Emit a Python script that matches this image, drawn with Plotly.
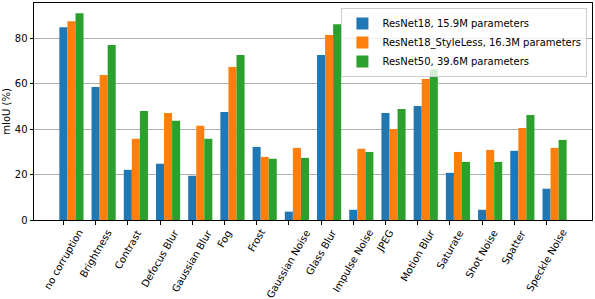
import plotly.graph_objects as go

categories = ["no corruption", "Brightness", "Contrast", "Defocus Blur", "Gaussian Blur",
              "Fog", "Frost", "Gaussian Noise", "Glass Blur", "Impulse Noise", "JPEG",
              "Motion Blur", "Saturate", "Shot Noise", "Spatter", "Speckle Noise"]

resnet18 = [85.0, 58.6, 22.1, 24.8, 19.5, 47.6, 32.2, 3.7, 72.7, 4.5, 47.2, 50.3, 20.8, 4.5, 30.5, 13.8]
resnet18_styleless = [87.6, 63.9, 35.8, 47.2, 41.5, 67.4, 27.8, 31.8, 81.5, 31.4, 40.1, 62.1, 30.0, 30.9, 40.6, 31.8]
resnet50 = [91.1, 77.1, 48.1, 43.7, 35.8, 72.7, 27.0, 27.4, 86.3, 30.0, 48.9, 66.5, 25.6, 25.6, 46.3, 35.3]

series_names = ["ResNet18, 15.9M parameters",
                "ResNet18_StyleLess, 16.3M parameters",
                "ResNet50, 39.6M parameters"]
series_values = [resnet18, resnet18_styleless, resnet50]
colors = ["#1f77b4", "#ff7f0e", "#2ca02c"]
y_ticks = [0, 20, 40, 60, 80]

FONT = "DejaVu Sans"
bar_w = 0.25
positions = list(range(len(categories)))

fig = go.Figure()
for k, (name, vals, col) in enumerate(zip(series_names, series_values, colors)):
    fig.add_bar(x=positions, y=vals, name=name, width=bar_w,
                offset=-bar_w / 2 + k * bar_w,
                marker=dict(color=col, line=dict(width=0)))

ymax = max(max(v) for v in series_values) * 1.05
xmin = -bar_w / 2
xmax = len(categories) - 1 + 2 * bar_w + bar_w / 2
span = xmax - xmin

fig.update_layout(
    width=595, height=299,
    margin=dict(l=34, r=3, t=3, b=79, autoexpand=False),
    paper_bgcolor="white", plot_bgcolor="white",
    barmode="overlay",
    font=dict(family=FONT, size=10, color="black"),
    showlegend=True,
    legend=dict(x=0.9918, y=0.977, xanchor="right", yanchor="top",
                bgcolor="rgba(255,255,255,0.8)", bordercolor="#cccccc", borderwidth=1,
                font=dict(family=FONT, size=10, color="black"),
                tracegroupgap=0, itemwidth=30),
)
fig.update_xaxes(range=[xmin - 0.05 * span, xmax + 0.05 * span],
                 tickvals=positions, ticktext=["" for _ in categories],
                 showticklabels=False, automargin=False,
                 ticks="outside", ticklen=3.5, tickwidth=0.8, tickcolor="black",
                 showline=True, linecolor="black", linewidth=1, mirror=True,
                 showgrid=False, zeroline=False)
fig.update_yaxes(range=[0, ymax], tickvals=y_ticks, ticktext=[str(t) for t in y_ticks],
                 automargin=False,
                 ticks="outside", ticklen=3.5, tickwidth=0.8, tickcolor="black",
                 showline=True, linecolor="black", linewidth=1, mirror=True,
                 showgrid=True, gridcolor="#b0b0b0", gridwidth=0.8, zeroline=False,
                 tickfont=dict(family=FONT, size=10, color="black"),
                 title=dict(text="mIoU (%)", font=dict(family=FONT, size=10, color="black"),
                            standoff=2))

for i, cat in enumerate(categories):
    fig.add_annotation(x=i, y=0, xref="x", yref="paper", text=cat,
                       showarrow=False, textangle=-60,
                       xanchor="center", yanchor="top", yshift=-5,
                       font=dict(family=FONT, size=10, color="black"))

fig.write_html("out.html", config={"displayModeBar": False},
               post_script="document.body.style.margin='0px';document.body.style.overflow='hidden';")
